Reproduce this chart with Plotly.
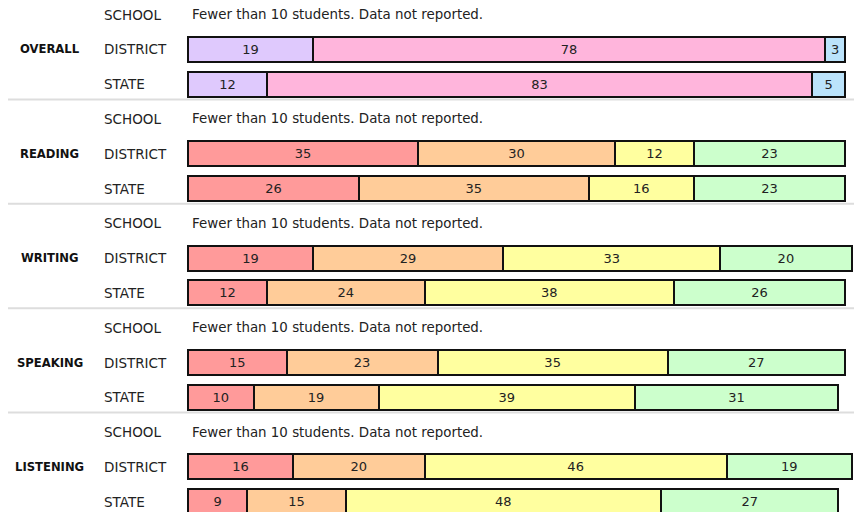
import plotly.graph_objects as go

groups = ["OVERALL", "READING", "WRITING", "SPEAKING", "LISTENING"]
rows = ["SCHOOL", "DISTRICT", "STATE"]
not_reported = "Fewer than 10 students. Data not reported."

# overall: 3 segments (lavender, pink, blue)
overall_district = [19, 78, 3]
overall_state = [12, 83, 5]
# domains: 4 segments (red, orange, yellow, green)
reading_district = [35, 30, 12, 23]
reading_state = [26, 35, 16, 23]
writing_district = [19, 29, 33, 20]
writing_state = [12, 24, 38, 26]
speaking_district = [15, 23, 35, 27]
speaking_state = [10, 19, 39, 31]
listening_district = [16, 20, 46, 19]
listening_state = [9, 15, 48, 27]

overall_colors = ["#dfc9fd", "#ffb5dc", "#bbe3fb"]
domain_colors = ["#ff9a9a", "#ffcc99", "#ffff9f", "#ccffcc"]

data = {
    "OVERALL": (overall_district, overall_state, overall_colors),
    "READING": (reading_district, reading_state, domain_colors),
    "WRITING": (writing_district, writing_state, domain_colors),
    "SPEAKING": (speaking_district, speaking_state, domain_colors),
    "LISTENING": (listening_district, listening_state, domain_colors),
}

W, H = 854, 512
PX_PER_UNIT = 6.57
X0_PX = 188
xmin = -X0_PX / PX_PER_UNIT
xmax = xmin + W / PX_PER_UNIT

def px2x(p):
    return (p - X0_PX) / PX_PER_UNIT

ROW_PX = 34.8
ROW0_PX = 14.5
ymin = -ROW0_PX / ROW_PX
ymax = ymin + H / ROW_PX

font = "DejaVu Sans, Verdana, sans-serif"

fig = go.Figure()
annotations = []
shapes = []

for gi, g in enumerate(groups):
    district, state, colors = data[g]
    base_row = gi * 3
    for ri, vals in ((1, district), (2, state)):
        y = base_row + ri
        for si, v in enumerate(vals):
            fig.add_trace(go.Bar(
                orientation="h",
                x=[v], y=[y],
                marker=dict(color=colors[si], line=dict(color="#111111", width=2)),
                width=0.72,
                text=[str(v)],
                textposition="inside",
                insidetextanchor="middle",
                textangle=0,
                constraintext="none",
                textfont=dict(family=font, size=13, color="#222222"),
                showlegend=False,
                hoverinfo="skip",
            ))
    for ri, r in enumerate(rows):
        annotations.append(dict(
            x=px2x(102), y=base_row + ri, xref="x", yref="y",
            text=r, showarrow=False, xanchor="left", yanchor="middle",
            font=dict(family=font, size=13.5, color="#222222"),
        ))
    annotations.append(dict(
        x=px2x(190), y=base_row, xref="x", yref="y",
        text=not_reported, showarrow=False, xanchor="left", yanchor="middle",
        font=dict(family=font, size=13.4, color="#222222"),
    ))
    annotations.append(dict(
        x=px2x(49.5), y=base_row + 1, xref="x", yref="y",
        text="<b>" + g + "</b>", showarrow=False, xanchor="center", yanchor="middle",
        font=dict(family=font, size=11.6, color="#111111"),
    ))
    if gi < len(groups) - 1:
        ys = base_row + 2.44
        shapes.append(dict(
            type="line", xref="x", yref="y",
            x0=px2x(8), x1=px2x(854), y0=ys, y1=ys,
            line=dict(color="#dddddd", width=2),
        ))

fig.update_layout(
    width=W, height=H,
    margin=dict(l=0, r=0, t=0, b=0),
    barmode="stack",
    plot_bgcolor="white", paper_bgcolor="white",
    xaxis=dict(range=[xmin, xmax], visible=False, fixedrange=True),
    yaxis=dict(range=[ymax, ymin], visible=False, fixedrange=True),
    annotations=annotations,
    shapes=shapes,
    uniformtext=dict(mode=False),
)

fig.write_html(
    "out.html",
    config={"displayModeBar": False},
    post_script="document.body.style.margin='0';document.body.style.overflow='hidden';",
)
